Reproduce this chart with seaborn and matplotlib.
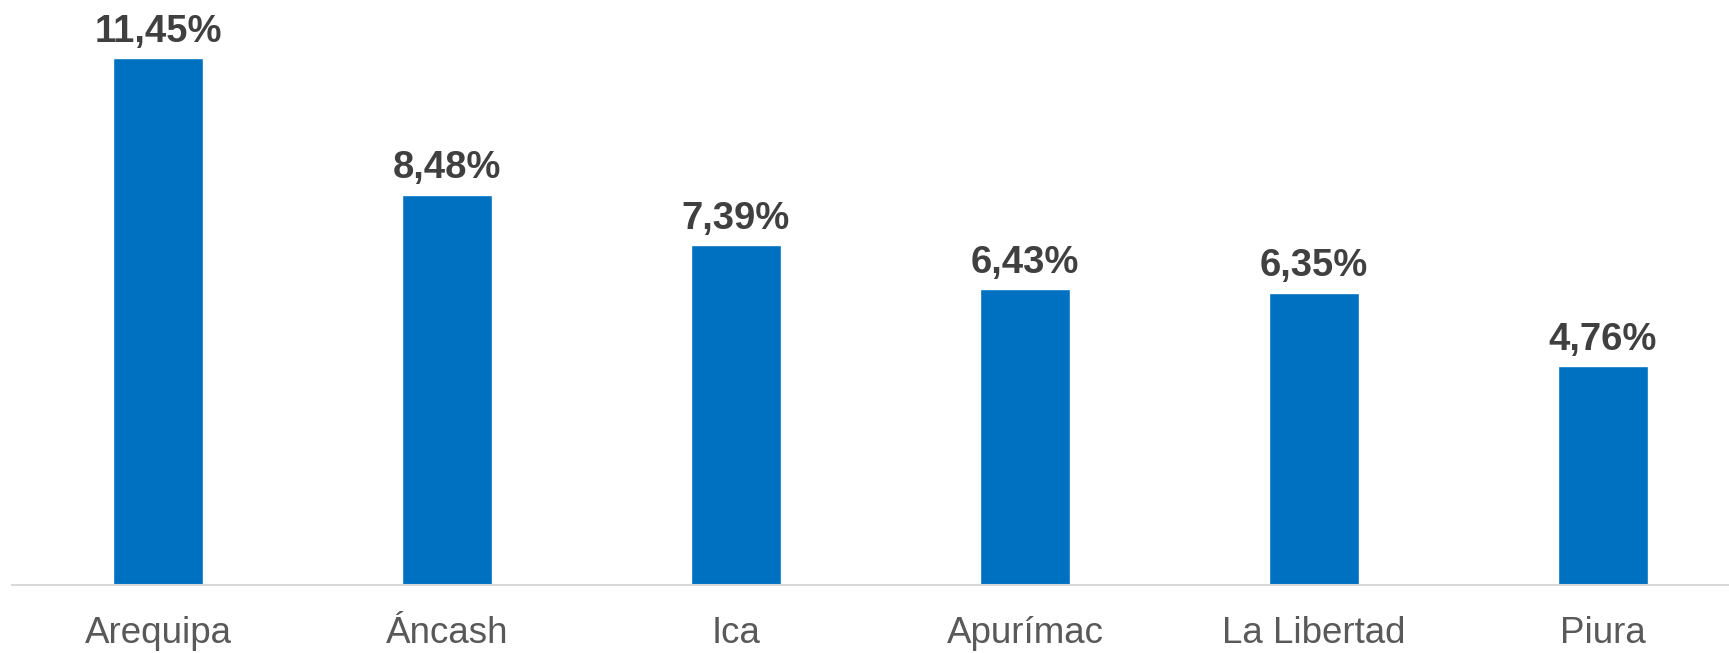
import matplotlib
matplotlib.use("Agg")
import matplotlib.pyplot as plt
import seaborn as sns
import pandas as pd

categories = ["Arequipa", "Áncash", "Ica", "Apurímac", "La Libertad", "Piura"]
values = [11.45, 8.48, 7.39, 6.43, 6.35, 4.76]

sns.set_style("white")
plt.rcParams['font.family'] = ['Liberation Sans', 'DejaVu Sans']

df = pd.DataFrame({"region": categories, "valor": values})

fig = plt.figure(figsize=(17.29, 6.53), dpi=100)
ax = fig.add_axes([12/1729, 68/653, (1729-12)/1729, 585/653])
sns.barplot(data=df, x="region", y="valor", color="#0070C0", saturation=1,
            width=0.311, ax=ax)
ax.set_xlim(-0.505, 5.436)
ax.set_ylim(0, 12.71)

for i, v in enumerate(values):
    ax.annotate(f"{v:.2f}%".replace(".", ","), (i, v), xytext=(0, 6),
                textcoords="offset points", ha="center", va="bottom",
                fontsize=27.5, fontweight="bold", color="#404040")

for s in ["top", "right", "left"]:
    ax.spines[s].set_visible(False)
ax.spines["bottom"].set_color("#D9D9D9")
ax.spines["bottom"].set_linewidth(1.5)
ax.set_yticks([])
ax.set_xlabel("")
ax.set_ylabel("")
ax.tick_params(axis="x", length=0, pad=22, labelsize=26.5, labelcolor="#595959")

fig.savefig("out.png", dpi=100)
